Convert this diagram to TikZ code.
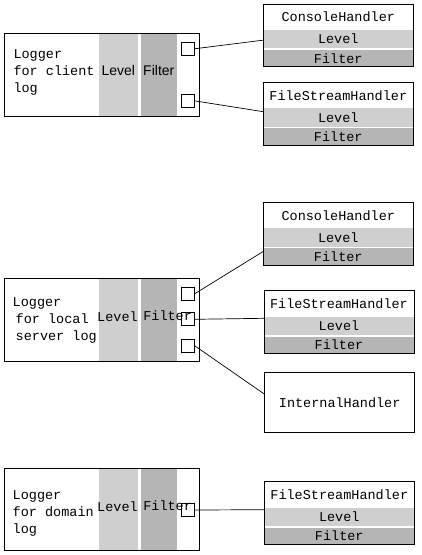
\documentclass[tikz,border=0pt]{standalone}
\usepackage{fontspec}
\setmonofont{Liberation Mono}
\setsansfont{Liberation Sans}
\usepackage{tikz}
\usetikzlibrary{positioning}
\definecolor{levelgray}{gray}{0.81}
\definecolor{filtergray}{gray}{0.71}

\begin{document}
\begin{tikzpicture}[x=1pt, y=-1pt,
        every node/.style={inner sep=0pt, outer sep=0pt},
        mono/.style={font=\ttfamily\fontsize{13.5}{17}\selectfont},
        sans/.style={font=\sffamily\fontsize{14}{17}\selectfont},
        logger/.style={draw, line width=0.9pt, minimum width=195pt, minimum height=83pt, anchor=north west},
        lvband/.style={fill=levelgray, minimum width=38.7pt, minimum height=83pt, anchor=north west},
        ftband/.style={fill=filtergray, minimum width=35.7pt, minimum height=83pt, anchor=north west},
        port/.style={draw, line width=0.8pt, minimum width=12.6pt, minimum height=13pt},
        htitle/.style={mono, minimum width=150pt, minimum height=26pt, anchor=north west},
        hlevel/.style={mono, fill=levelgray, minimum width=150pt, minimum height=18.3pt},
        hfilter/.style={mono, fill=filtergray, minimum width=150pt, minimum height=17pt},
        hbox/.style={line width=0.9pt},
        wire/.style={line width=0.7pt}]
        \useasboundingbox (0,0) rectangle (421,555);

        % Logger for client log
        \node[lvband] (lv1) at (99,33.3) {};
        \node[ftband] (ft1) at (141,33.3) {};
        \node[logger] (lg1) at (4,33.3) {};
        \node[mono, align=left, anchor=west] (txt1) at (13.5,72) {Logger\\for client\\log};
        \node[sans] (lvtxt1) at (118.3,70.3) {Level};
        \node[sans] (fttxt1) at (158.8,70.3) {Filter};
        \node[port] (p11) at (188,48.8) {};
        \node[port] (p12) at (188,100.8) {};

        % Handlers of the client logger
        \node[htitle] (chA) at (263.3,4) {ConsoleHandler};
        \node[hlevel, below=0pt of chA] (chAlv) {Level};
        \node[hfilter, below=1.5pt of chAlv] (chAft) {Filter};
        \draw[hbox] (chA.north west) rectangle (chAft.south east);

        \node[htitle] (fhA) at (263.3,82.3) {FileStreamHandler};
        \node[hlevel, below=0pt of fhA] (fhAlv) {Level};
        \node[hfilter, below=1.5pt of fhAlv] (fhAft) {Filter};
        \draw[hbox] (fhA.north west) rectangle (fhAft.south east);

        \draw[wire] (p11.east) -- ([yshift=-1pt]chAlv.west);
        \draw[wire] (p12.east) -- ([yshift=-3.4pt]fhAlv.north west);

        % Logger for local server log
        \node[lvband] (lv2) at (99,278.3) {};
        \node[ftband] (ft2) at (141,278.3) {};
        \node[logger] (lg2) at (4,278.3) {};
        \node[mono, align=left, anchor=west] (txt2) at (12.7,320.3) {Logger\\\hspace{3pt}for local\\\hspace{3pt}server log};
        \node[mono] (lvtxt2) at (117.5,317) {Level};
        \node[mono, anchor=west] (fttxt2) at (143.3,316) {Filter};
        \node[port] (p21) at (188,294) {};
        \node[port] (p22) at (188,319.3) {};
        \node[port] (p23) at (188,345.5) {};

        % Handlers of the local server logger
        \node[htitle] (chB) at (263.3,202.3) {ConsoleHandler};
        \node[hlevel, below=0pt of chB] (chBlv) {Level};
        \node[hfilter, below=1.5pt of chBlv] (chBft) {Filter};
        \draw[hbox] (chB.north west) rectangle (chBft.south east);

        \node[htitle] (fhB) at (264,290.7) {FileStreamHandler};
        \node[hlevel, below=0pt of fhB] (fhBlv) {Level};
        \node[hfilter, below=1.5pt of fhBlv] (fhBft) {Filter};
        \draw[hbox] (fhB.north west) rectangle (fhBft.south east);

        \node[mono, draw, line width=0.9pt, minimum width=150pt, minimum height=60pt, anchor=north west] (ih) at (264.7,372.3) {InternalHandler};

        \draw[wire] (p21.east) -- ([yshift=-3.3pt]chBft.north west);
        \draw[wire] (p22.east) -- ([yshift=-1.6pt]fhBlv.north west);
        \draw[wire] (p23.east) -- ([yshift=8pt]ih.west);

        % Logger for domain log
        \node[lvband, minimum height=82pt] (lv3) at (99,468.3) {};
        \node[ftband, minimum height=82pt] (ft3) at (141,468.3) {};
        \node[logger, minimum height=82pt] (lg3) at (4,468.3) {};
        \node[mono, align=left, anchor=west] (txt3) at (12.7,513) {Logger\\for domain\\log};
        \node[mono] (lvtxt3) at (117.5,506.7) {Level};
        \node[mono, anchor=west] (fttxt3) at (143.3,506) {Filter};
        \node[port] (p31) at (188,510) {};

        % Handler of the domain logger
        \node[htitle] (fhC) at (264.3,481.7) {FileStreamHandler};
        \node[hlevel, below=0pt of fhC] (fhClv) {Level};
        \node[hfilter, below=1.5pt of fhClv] (fhCft) {Filter};
        \draw[hbox] (fhC.north west) rectangle (fhCft.south east);

        \draw[wire] (p31.east) -- ([yshift=-2pt]fhClv.north west);
\end{tikzpicture}
\end{document}
